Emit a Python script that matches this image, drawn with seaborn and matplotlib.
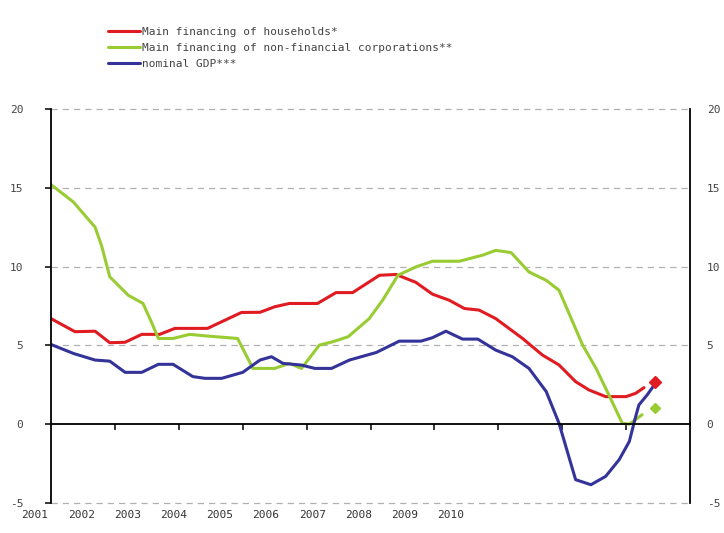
import matplotlib
matplotlib.use("Agg")
import matplotlib.pyplot as plt
import seaborn as sns

# Main financing of households* (year, %)
hh_year = [2001.00, 2001.375, 2001.69, 2001.92, 2002.16, 2002.42, 2002.70, 2002.94,
           2003.45, 2003.98, 2004.27, 2004.50, 2004.73, 2005.17, 2005.46, 2005.72,
           2006.14, 2006.40, 2006.71, 2006.97, 2007.23, 2007.47, 2007.70, 2007.96,
           2008.38, 2008.69, 2008.95, 2009.21, 2009.42, 2009.68, 2010.00, 2010.15,
           2010.28]
hh_val = [6.7, 5.87, 5.9, 5.17, 5.2, 5.7, 5.7, 6.08,
          6.08, 7.09, 7.1, 7.45, 7.66, 7.66, 8.35, 8.35,
          9.45, 9.5, 9.0, 8.25, 7.87, 7.34, 7.24, 6.7,
          5.44, 4.39, 3.76, 2.7, 2.17, 1.75, 1.75, 1.96,
          2.32]

# Main financing of non-financial corporations**
nfc_year = [2001.00, 2001.35, 2001.69, 2001.79, 2001.92, 2002.21, 2002.44, 2002.57,
            2002.68, 2002.91, 2003.17, 2003.43, 2003.92, 2004.16, 2004.50, 2004.73,
            2004.92, 2005.20, 2005.41, 2005.65, 2005.98, 2006.19, 2006.43, 2006.71,
            2006.97, 2007.39, 2007.75, 2007.96, 2008.20, 2008.48, 2008.75, 2008.95,
            2009.32, 2009.53, 2009.73, 2009.94, 2010.05, 2010.25]
nfc_val = [15.2, 14.1, 12.5, 11.35, 9.35, 8.18, 7.66, 6.5,
           5.44, 5.44, 5.7, 5.6, 5.44, 3.54, 3.54, 3.86,
           3.54, 5.02, 5.23, 5.55, 6.7, 7.87, 9.45, 9.98,
           10.34, 10.34, 10.72, 11.03, 10.89, 9.66, 9.13, 8.5,
           5.02, 3.54, 1.86, 0.06, 0.0, 0.6]

# nominal GDP***
gdp_year = [2001.00, 2001.35, 2001.69, 2001.92, 2002.16, 2002.42, 2002.68, 2002.91,
            2003.22, 2003.41, 2003.67, 2004.00, 2004.27, 2004.45, 2004.63, 2004.92,
            2005.13, 2005.39, 2005.67, 2006.09, 2006.45, 2006.79, 2006.97, 2007.18,
            2007.44, 2007.68, 2007.96, 2008.22, 2008.48, 2008.75, 2008.95, 2009.21,
            2009.45, 2009.68, 2009.89, 2010.05, 2010.15, 2010.20, 2010.33, 2010.46]
gdp_val = [5.06, 4.49, 4.07, 4.0, 3.29, 3.29, 3.8, 3.8,
           3.02, 2.91, 2.91, 3.29, 4.07, 4.28, 3.86, 3.75,
           3.54, 3.54, 4.07, 4.55, 5.27, 5.27, 5.49, 5.9,
           5.4, 5.4, 4.7, 4.28, 3.54, 2.07, 0.06, -3.52,
           -3.84, -3.31, -2.26, -1.1, 0.49, 1.22, 1.86, 2.6]

# single end-points (diamonds)
hh_point = (2010.46, 2.7)
nfc_point = (2010.46, 1.05)

year_labels = [str(y) for y in range(2001, 2011)]
y_ticks = [-5, 0, 5, 10, 15, 20]
grid_levels = [-5, 5, 10, 15, 20]

labels = ["Main financing of households*",
          "Main financing of non-financial corporations**",
          "nominal GDP***"]
colors = ["#e01b22", "#99cc33", "#333399"]

sns.set_style("white")
plt.rcParams["font.family"] = ["DejaVu Sans Mono"]
plt.rcParams["axes.unicode_minus"] = False

fig = plt.figure(figsize=(7.24, 5.33), dpi=100)

# year labels sit on their own scale, offset from the data ticks (as in the original)
axl = fig.add_axes([0, 30 / 533, 1, 394 / 533])
axl.set_xlim(2001 - 35 / 46.2, 2001 + (724 - 35) / 46.2)
axl.set_xticks(range(2001, 2011))
axl.set_xticklabels(year_labels)
axl.set_yticks([])
axl.tick_params(axis="x", length=0, pad=5, labelsize=8, labelcolor="#333333")
axl.patch.set_visible(False)
for s in axl.spines.values():
    s.set_visible(False)

ax = fig.add_axes([51 / 724, 30 / 533, 639 / 724, 394 / 533])
ax.patch.set_visible(False)

sns.lineplot(x=hh_year, y=hh_val, ax=ax, color=colors[0], lw=2.2, label=labels[0])
sns.lineplot(x=nfc_year, y=nfc_val, ax=ax, color=colors[1], lw=2.2, label=labels[1])
sns.lineplot(x=gdp_year, y=gdp_val, ax=ax, color=colors[2], lw=2.2, label=labels[2])
ax.plot([hh_point[0]], [hh_point[1]], marker="D", ms=6, color=colors[0], ls="none")
ax.plot([nfc_point[0]], [nfc_point[1]], marker="D", ms=5, color=colors[1], ls="none")

ax.set_xlim(2001, 2011)
ax.set_ylim(-5, 20)
for v in grid_levels:
    ax.axhline(v, color="#b0b0b0", lw=0.9, ls=(0, (5, 4)), zorder=0, clip_on=False)

# x axis drawn at y = 0
ax.spines["top"].set_visible(False)
ax.spines["bottom"].set_position(("data", 0))
for s in ["left", "right", "bottom"]:
    ax.spines[s].set_color("black")
    ax.spines[s].set_linewidth(1.3)
ax.set_xticks(range(2002, 2011))
ax.tick_params(axis="x", direction="out", length=4, width=1.3, labelbottom=False, bottom=True)

ax.set_yticks(y_ticks)
ax.tick_params(axis="y", direction="out", length=4, width=1.3, left=True, right=True,
               labelleft=True, labelright=False, labelsize=8, labelcolor="#444444", pad=16)

# right-hand labels, closer to the axis so they stay inside the figure
ax2 = ax.twinx()
ax2.set_ylim(-5, 20)
ax2.set_yticks(y_ticks)
ax2.tick_params(axis="y", length=0, pad=12, labelsize=8, labelcolor="#444444")
for s in ax2.spines.values():
    s.set_visible(False)

handles, labs = ax.get_legend_handles_labels()
ax.legend_.remove()
fig.legend(handles[:3], labs[:3], loc="upper left", bbox_to_anchor=(108 / 724, 1 - 27 / 533),
           frameon=False, fontsize=8, handlelength=2.9, handletextpad=0.15,
           labelspacing=0.55, borderpad=0, borderaxespad=0, labelcolor="#444444")

fig.savefig("out.png", dpi=100, facecolor="white")
